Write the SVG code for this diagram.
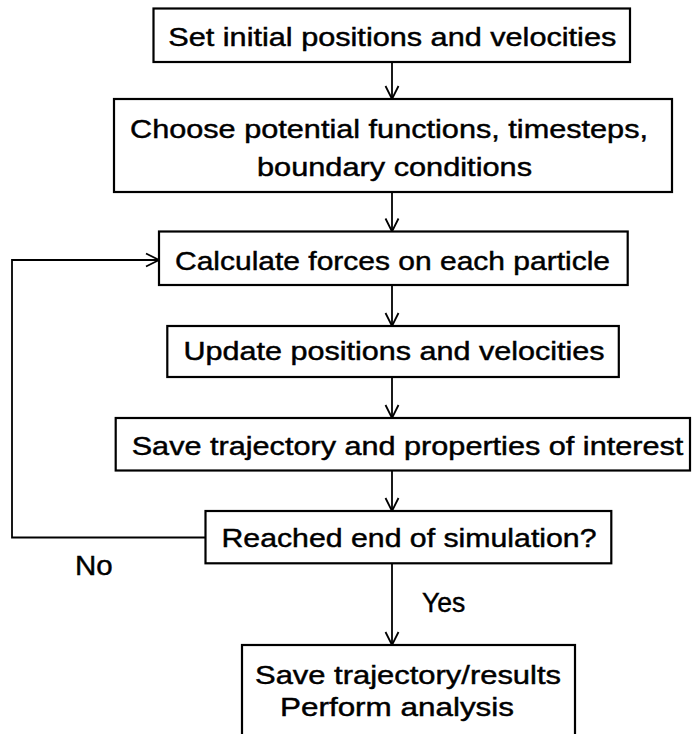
<svg xmlns="http://www.w3.org/2000/svg" width="698" height="734" viewBox="0 0 698 734">
  <defs>
    <marker id="arr" viewBox="0 0 16 16" refX="15" refY="8" markerWidth="16" markerHeight="16" markerUnits="userSpaceOnUse" orient="auto">
      <path d="M2,1.5 L15,8 L2,14.5" fill="none" stroke="#000" stroke-width="1.8"/>
    </marker>
    <style>
      .box { fill: #fff; stroke: #000; stroke-width: 2.2; }
      .t { font-family: "Liberation Sans", Arial, sans-serif; font-size: 26px; fill: #000; stroke: #000; stroke-width: 0.45; text-anchor: middle; }
      .lbl { font-family: "Liberation Sans", Arial, sans-serif; font-size: 28px; fill: #000; stroke: #000; stroke-width: 0.45; text-anchor: middle; }
      .c { fill: none; stroke: #000; stroke-width: 1.8; }
    </style>
  </defs>
  <rect width="698" height="734" fill="#fff"/>

  <g id="connectors">
    <line class="c" x1="392" y1="62" x2="392" y2="99" marker-end="url(#arr)"/>
    <line class="c" x1="392" y1="192" x2="392" y2="231.5" marker-end="url(#arr)"/>
    <line class="c" x1="392" y1="285" x2="392" y2="326" marker-end="url(#arr)"/>
    <line class="c" x1="392" y1="377" x2="392" y2="418" marker-end="url(#arr)"/>
    <line class="c" x1="392" y1="470.5" x2="392" y2="511" marker-end="url(#arr)"/>
    <line class="c" x1="392" y1="563.3" x2="392" y2="645" marker-end="url(#arr)"/>
    <polyline class="c" points="205.5,537.5 12,537.5 12,260 159,260" marker-end="url(#arr)"/>
    <text class="lbl" x="93.8" y="575" textLength="37.7" lengthAdjust="spacingAndGlyphs">No</text>
    <text class="lbl" x="443.6" y="612" textLength="43.3" lengthAdjust="spacingAndGlyphs">Yes</text>
  </g>

  <g id="n1">
    <rect class="box" x="153.5" y="8.5" width="476.5" height="53.5"/>
    <text class="t" x="392.3" y="45.7" textLength="448" lengthAdjust="spacingAndGlyphs">Set initial positions and velocities</text>
  </g>
  <g id="n2">
    <rect class="box" x="114" y="99" width="558" height="93"/>
    <text class="t" x="389" y="137.5" textLength="518" lengthAdjust="spacingAndGlyphs">Choose potential functions, timesteps,</text>
    <text class="t" x="394.5" y="175.5" textLength="275" lengthAdjust="spacingAndGlyphs">boundary conditions</text>
  </g>
  <g id="n3">
    <rect class="box" x="159" y="231.5" width="468.7" height="53.5"/>
    <text class="t" x="392.5" y="269.5" textLength="435" lengthAdjust="spacingAndGlyphs">Calculate forces on each particle</text>
  </g>
  <g id="n4">
    <rect class="box" x="167.3" y="326" width="451.5" height="51"/>
    <text class="t" x="394" y="360" textLength="421" lengthAdjust="spacingAndGlyphs">Update positions and velocities</text>
  </g>
  <g id="n5">
    <rect class="box" x="115.7" y="418" width="574.3" height="52.5"/>
    <text class="t" x="407.5" y="455" textLength="551.6" lengthAdjust="spacingAndGlyphs">Save trajectory and properties of interest</text>
  </g>
  <g id="n6">
    <rect class="box" x="205.5" y="511" width="405.8" height="52.3"/>
    <text class="t" x="409" y="546.7" textLength="375" lengthAdjust="spacingAndGlyphs">Reached end of simulation?</text>
  </g>
  <g id="n7">
    <rect class="box" x="242" y="645" width="333" height="100"/>
    <text class="t" x="408" y="684" textLength="306" lengthAdjust="spacingAndGlyphs">Save trajectory/results</text>
    <text class="t" x="397" y="715.7" textLength="234" lengthAdjust="spacingAndGlyphs">Perform analysis</text>
  </g>
</svg>
